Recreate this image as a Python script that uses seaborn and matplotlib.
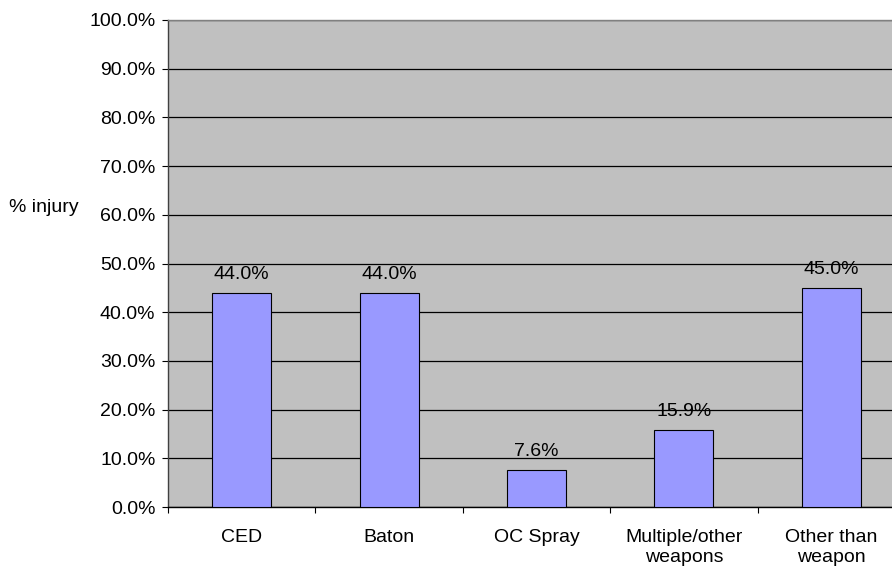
import matplotlib
matplotlib.use('Agg')
import matplotlib.pyplot as plt
import seaborn as sns
import pandas as pd
import numpy as np

# Data
categories = ['CED', 'Baton', 'OC Spray', 'Multiple/other\nweapons', 'Other than\nweapon']
injury_pct = [44.0, 44.0, 7.6, 15.9, 45.0]
y_ticks = list(range(0, 101, 10))

sns.set_style('white')
plt.rcParams['font.family'] = ['Liberation Sans', 'DejaVu Sans']
plt.rcParams['text.color'] = 'black'
plt.rcParams['xtick.color'] = 'black'
plt.rcParams['ytick.color'] = 'black'

df = pd.DataFrame({'category': categories, 'pct': injury_pct})

fig = plt.figure(figsize=(8.92, 5.68), dpi=100)
# plot area runs past the right edge, as in the reference
ax = fig.add_axes([168 / 892, 61 / 568, 737 / 892, 487 / 568])
ax.set_facecolor('#C0C0C0')

sns.barplot(data=df, x='category', y='pct', color='#9999FF', saturation=1,
            width=0.4, edgecolor='black', linewidth=0.8, ax=ax, zorder=3)

ax.set_ylim(0, 100)
ax.set_xlim(-0.5, len(categories) - 0.5)
ax.set_yticks(y_ticks)
ax.set_yticklabels([f'{t:.1f}%' for t in y_ticks], fontsize=14)
ax.yaxis.grid(True, color='black', linewidth=0.9, zorder=0)
ax.set_axisbelow(True)

# category boundaries as major ticks, names on minor ticks
ax.set_xticks(np.arange(-0.5, len(categories), 1.0))
ax.set_xticklabels([])
ax.set_xticks(range(len(categories)), minor=True)
ax.set_xticklabels(categories, minor=True, fontsize=14, linespacing=1.25)
ax.tick_params(axis='x', which='major', direction='out', length=4, width=0.8,
               bottom=True, color='black')
ax.tick_params(axis='x', which='minor', length=0, pad=16)
ax.tick_params(axis='y', direction='out', length=4, width=0.8, left=True,
               color='black', pad=5)

ax.set_xlabel('')
ax.set_ylabel('')

for side in ['top', 'left', 'bottom']:
    ax.spines[side].set_visible(True)
ax.spines['top'].set_color('#808080')
ax.spines['left'].set_color('#404040')
ax.spines['bottom'].set_color('black')
for s in ax.spines.values():
    s.set_linewidth(1.0)

for container in ax.containers:
    ax.bar_label(container, labels=[f'{v:.1f}%' for v in injury_pct],
                 padding=7, fontsize=14)

fig.text(44 / 892, 1 - 208 / 568, '% injury', ha='center', va='center', fontsize=14)

fig.savefig('out.png', dpi=100)
